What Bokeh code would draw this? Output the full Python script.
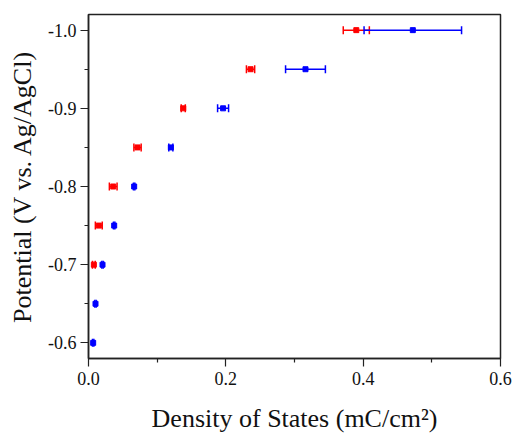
from bokeh.plotting import figure
from bokeh.models import ColumnDataSource, Whisker, TeeHead, Range1d, FixedTicker, PrintfTickFormatter
from bokeh.embed import file_html
from bokeh.resources import INLINE

# Red series
red_potential = [-0.70, -0.75, -0.80, -0.85, -0.90, -0.95, -1.00]
red_dos = [0.0078, 0.015, 0.036, 0.0714, 0.138, 0.236, 0.390]
red_err = [0.002, 0.005, 0.0056, 0.0053, 0.003, 0.006, 0.019]

# Blue series
blue_potential = [-0.60, -0.65, -0.70, -0.75, -0.80, -0.85, -0.90, -0.95, -1.00]
blue_dos = [0.0068, 0.0102, 0.0204, 0.0374, 0.0665, 0.1199, 0.196, 0.316, 0.4723]
blue_err = [0.001, 0.001, 0.001, 0.001, 0.001, 0.003, 0.008, 0.029, 0.071]

x_ticks = [0.0, 0.2, 0.4, 0.6]
x_minor = [0.1, 0.3, 0.5]
y_ticks = [-0.6, -0.7, -0.8, -0.9, -1.0]
y_minor = [-0.65, -0.75, -0.85, -0.95]

FONT = "Liberation Serif"

p = figure(frame_width=412, frame_height=344, output_backend="svg", toolbar_location=None,
           x_range=Range1d(0.0, 0.6), y_range=Range1d(-0.58, -1.02),
           min_border_left=88, min_border_right=12, min_border_top=14, min_border_bottom=74)

p.xgrid.visible = False
p.ygrid.visible = False
p.outline_line_color = "#222222"
p.outline_line_width = 1.5
p.background_fill_color = "white"
p.border_fill_color = "white"

for ax in (p.xaxis[0], p.yaxis[0]):
    ax.axis_line_color = "#222222"
    ax.axis_line_width = 1.5
    ax.major_tick_line_color = "#222222"
    ax.minor_tick_line_color = "#222222"
    ax.major_tick_line_width = 1.2
    ax.minor_tick_line_width = 1.2
    ax.major_tick_out = 8
    ax.major_tick_in = 0
    ax.minor_tick_out = 4
    ax.minor_tick_in = 0
    ax.major_label_text_font = FONT
    ax.major_label_text_font_size = "18px"
    ax.major_label_text_color = "#111111"
    ax.axis_label_text_font = FONT
    ax.axis_label_text_font_size = "26px"
    ax.axis_label_text_font_style = "normal"
    ax.axis_label_text_color = "#111111"
    ax.formatter = PrintfTickFormatter(format="%.1f")

p.xaxis.ticker = FixedTicker(ticks=x_ticks, minor_ticks=x_minor)
p.yaxis.ticker = FixedTicker(ticks=y_ticks, minor_ticks=y_minor)
p.xaxis.axis_label = "Density of States (mC/cm²)"
p.yaxis.axis_label = "Potential (V vs. Ag/AgCl)"
p.xaxis.axis_label_standoff = 16
p.yaxis.axis_label_standoff = 8
p.xaxis.major_label_standoff = 5
p.yaxis.major_label_standoff = 4

def add_series(xs, ys, errs, color):
    src = ColumnDataSource(dict(
        x=xs, y=ys,
        lo=[a - e for a, e in zip(xs, errs)],
        hi=[a + e for a, e in zip(xs, errs)],
    ))
    w = Whisker(source=src, base="y", lower="lo", upper="hi", dimension="width",
                line_color=color, line_width=1.5,
                upper_head=TeeHead(size=8, line_color=color, line_width=1.5),
                lower_head=TeeHead(size=8, line_color=color, line_width=1.5))
    p.add_layout(w)
    p.scatter("x", "y", source=src, marker="square", size=5,
              fill_color=color, line_color=color)

add_series(red_dos, red_potential, red_err, "#ff0000")
add_series(blue_dos, blue_potential, blue_err, "#0000ff")

open("out.html", "w").write(file_html(p, INLINE))
